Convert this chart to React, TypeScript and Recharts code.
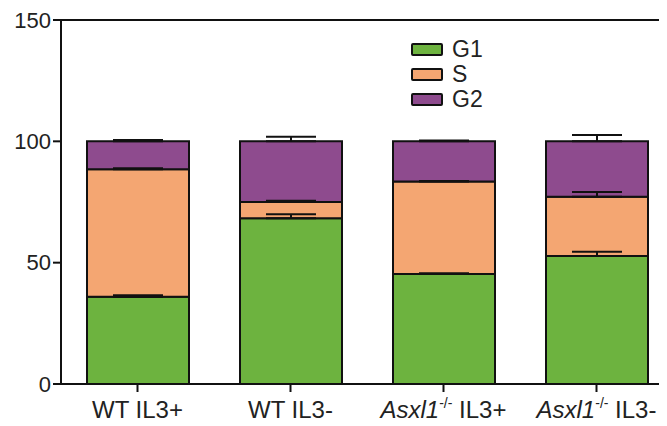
import { BarChart, Bar, XAxis, YAxis, ErrorBar, ReferenceLine } from "recharts";

const categories = ["WT IL3+", "WT IL3-", "Asxl1-/- IL3+", "Asxl1-/- IL3-"];
const g1 = [36, 68.3, 45.3, 52.7];
const s = [52.5, 6.7, 38.1, 24.5];
const g2 = [11.5, 25, 16.6, 22.8];
const g1Err = [0.6, 1.7, 0.3, 1.8];
const sErr = [0.4, 0.5, 0.3, 1.9];
const g2Err = [0.6, 1.9, 0.3, 2.6];
const yTicks = [0, 50, 100, 150];
const seriesNames = ["G1", "S", "G2"];

const COLORS: Record<string, string> = { G1: "#6db33f", S: "#f4a672", G2: "#8e4b8e" };
const FONT = "'Liberation Sans', Arial, sans-serif";

const data = categories.map((name, i) => ({
  name,
  G1: g1[i],
  S: s[i],
  G2: g2[i],
  g1Err: [0, g1Err[i]],
  sErr: [0, sErr[i]],
  g2Err: [0, g2Err[i]],
}));

function XTick({ x, y, payload }: any) {
  const label: string = payload.value;
  const m = label.match(/^(Asxl1)(-\/-)\s(.*)$/);
  return (
    <text
      x={x}
      y={y}
      dy={24}
      textAnchor="middle"
      fontSize={24}
      fontFamily={FONT}
      fill="#222"
    >
      {m ? (
        <>
          <tspan fontStyle="italic">{m[1]}</tspan>
          <tspan fontSize={14} dy={-10}>
            {m[2]}
          </tspan>
          <tspan dy={10}>{" " + m[3]}</tspan>
        </>
      ) : (
        label
      )}
    </text>
  );
}

function LegendBox() {
  return (
    <div
      style={{
        position: "absolute",
        left: 403,
        top: 29,
        fontFamily: FONT,
        fontSize: 23,
        color: "#222",
      }}
    >
      {seriesNames.map((n) => (
        <div key={n} style={{ display: "flex", alignItems: "center", height: 25 }}>
          <span
            style={{
              display: "inline-block",
              width: 28,
              height: 9,
              background: COLORS[n],
              border: "2px solid #111",
              borderRadius: 2,
              marginRight: 9,
            }}
          />
          {n}
        </div>
      ))}
    </div>
  );
}

export default function App() {
  return (
    <div style={{ position: "relative", width: 659, height: 418, overflow: "hidden" }}>
      <BarChart
        width={700}
        height={418}
        data={data}
        margin={{ top: 12, right: 35, left: 0, bottom: 0 }}
        barSize={102}
      >
        <XAxis
          dataKey="name"
          height={42}
          tick={<XTick />}
          tickSize={8}
          axisLine={{ stroke: "#111", strokeWidth: 2 }}
          tickLine={{ stroke: "#111", strokeWidth: 2 }}
        />
        <YAxis
          domain={[0, 150]}
          ticks={yTicks}
          width={53}
          tickSize={8}
          tickMargin={2}
          interval={0}
          tick={{ fill: "#222", fontSize: 22, fontFamily: FONT }}
          axisLine={{ stroke: "#111", strokeWidth: 2 }}
          tickLine={{ stroke: "#111", strokeWidth: 2 }}
        />
        <ReferenceLine y={150} stroke="#111" strokeWidth={2} />
        <Bar dataKey="G1" stackId="a" fill={COLORS.G1} stroke="#111" strokeWidth={2} isAnimationActive={false}>
          <ErrorBar dataKey="g1Err" width={25} stroke="#111" strokeWidth={2} />
        </Bar>
        <Bar dataKey="S" stackId="a" fill={COLORS.S} stroke="#111" strokeWidth={2} isAnimationActive={false}>
          <ErrorBar dataKey="sErr" width={25} stroke="#111" strokeWidth={2} />
        </Bar>
        <Bar dataKey="G2" stackId="a" fill={COLORS.G2} stroke="#111" strokeWidth={2} isAnimationActive={false}>
          <ErrorBar dataKey="g2Err" width={25} stroke="#111" strokeWidth={2} />
        </Bar>
      </BarChart>
      <LegendBox />
    </div>
  );
}
